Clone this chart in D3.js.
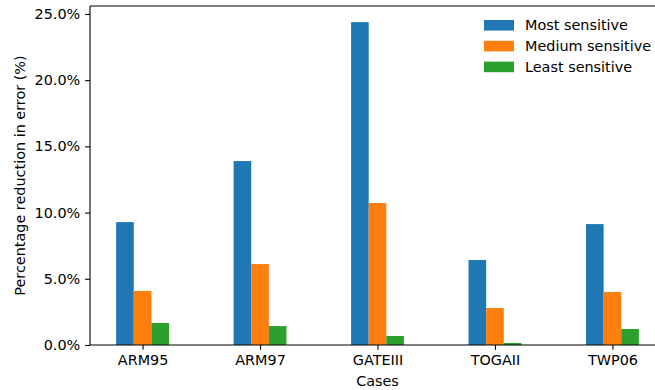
<!DOCTYPE html>
<html>
<head>
<meta charset="utf-8">
<script src="https://cdn.jsdelivr.net/npm/d3@7"></script>
<style>
  html, body { margin: 0; padding: 0; background: #fff; }
  svg { display: block; font-family: "DejaVu Sans", sans-serif; }
</style>
</head>
<body>
<svg id="chart" width="655" height="390"></svg>
<script>
// Cases on the x axis
const cases = ["ARM95", "ARM97", "GATEIII", "TOGAII", "TWP06"];
// Percentage reduction in error for each sensitivity group
const mostSensitive   = [9.28, 13.89, 24.38, 6.42, 9.13];
const mediumSensitive = [4.08, 6.11, 10.72, 2.79, 4.00];
const leastSensitive  = [1.66, 1.43, 0.68, 0.15, 1.21];
const seriesNames  = ["Most sensitive", "Medium sensitive", "Least sensitive"];
const seriesColors = ["#1f77b4", "#ff7f0e", "#2ca02c"];
const yTicks = [0, 5, 10, 15, 20, 25];

const series = [mostSensitive, mediumSensitive, leastSensitive];
const barWidth = 0.15;
const fontSize = 14.4;

const svg = d3.select("#chart");
const plotLeft = 90, plotRight = 665, plotTop = 6, plotBottom = 345;

// Index-based x scale with a 5% margin either side of the bars
const xMin = -barWidth * 1.5, xMax = cases.length - 1 + barWidth * 1.5;
const xPad = (xMax - xMin) * 0.05;
const x = d3.scaleLinear().domain([xMin - xPad, xMax + xPad]).range([plotLeft, plotRight]);

const yMax = d3.max(series.flat()) * 1.05;
const y = d3.scaleLinear().domain([0, yMax]).range([plotBottom, plotTop]);

// Bars
series.forEach((vals, si) => {
  svg.append("g")
    .attr("fill", seriesColors[si])
    .selectAll("rect")
    .data(vals)
    .join("rect")
    .attr("x", (d, i) => x(i + (si - 1) * barWidth - barWidth / 2))
    .attr("width", (d, i) => x(i + barWidth) - x(i))
    .attr("y", d => y(d))
    .attr("height", d => y(0) - y(d));
});

// Axes
const tickLen = 4.86, tickPad = 4.86;
const xAxis = d3.axisBottom(x)
  .tickValues(d3.range(cases.length))
  .tickFormat(i => cases[i])
  .tickSize(tickLen).tickPadding(tickPad).tickSizeOuter(0);
const yAxis = d3.axisLeft(y)
  .tickValues(yTicks)
  .tickFormat(d => d.toFixed(1) + "%")
  .tickSize(tickLen).tickPadding(tickPad).tickSizeOuter(0);

const gx = svg.append("g").attr("transform", `translate(0,${plotBottom})`).call(xAxis);
const gy = svg.append("g").attr("transform", `translate(${plotLeft},0)`).call(yAxis);
[gx, gy].forEach(g => {
  g.selectAll("path.domain").remove();
  g.selectAll("line").attr("stroke", "#000").attr("stroke-width", 1.1);
  g.selectAll("text").attr("fill", "#000").style("font-size", fontSize + "px")
    .style("font-family", "'DejaVu Sans', sans-serif");
});

// Spines
const spines = svg.append("g").attr("fill", "none").attr("stroke", "#000").attr("stroke-width", 1.1);
spines.append("line").attr("x1", plotLeft).attr("x2", plotLeft).attr("y1", plotTop).attr("y2", plotBottom);
spines.append("line").attr("x1", plotLeft).attr("x2", plotRight).attr("y1", plotBottom).attr("y2", plotBottom);
spines.append("line").attr("x1", plotLeft).attr("x2", plotRight).attr("y1", plotTop).attr("y2", plotTop);
spines.append("line").attr("x1", plotRight).attr("x2", plotRight).attr("y1", plotTop).attr("y2", plotBottom);

// Axis titles
svg.append("text")
  .attr("x", (plotLeft + plotRight) / 2).attr("y", 386)
  .attr("text-anchor", "middle")
  .style("font-size", fontSize + "px")
  .text("Cases");
svg.append("text")
  .attr("transform", `translate(25,${(plotTop + plotBottom) / 2}) rotate(-90)`)
  .attr("text-anchor", "middle")
  .style("font-size", fontSize + "px")
  .text("Percentage reduction in error (%)");

// Legend
const legend = svg.append("g").attr("transform", "translate(484,20)");
seriesNames.forEach((name, i) => {
  const row = legend.append("g").attr("transform", `translate(0,${i * 20.8})`);
  row.append("rect").attr("width", 30).attr("height", 10.6).attr("fill", seriesColors[i]);
  row.append("text").attr("x", 41).attr("y", 5.3).attr("dy", "0.35em")
    .style("font-size", fontSize + "px").attr("fill", "#000").text(name);
});
</script>
</body>
</html>
